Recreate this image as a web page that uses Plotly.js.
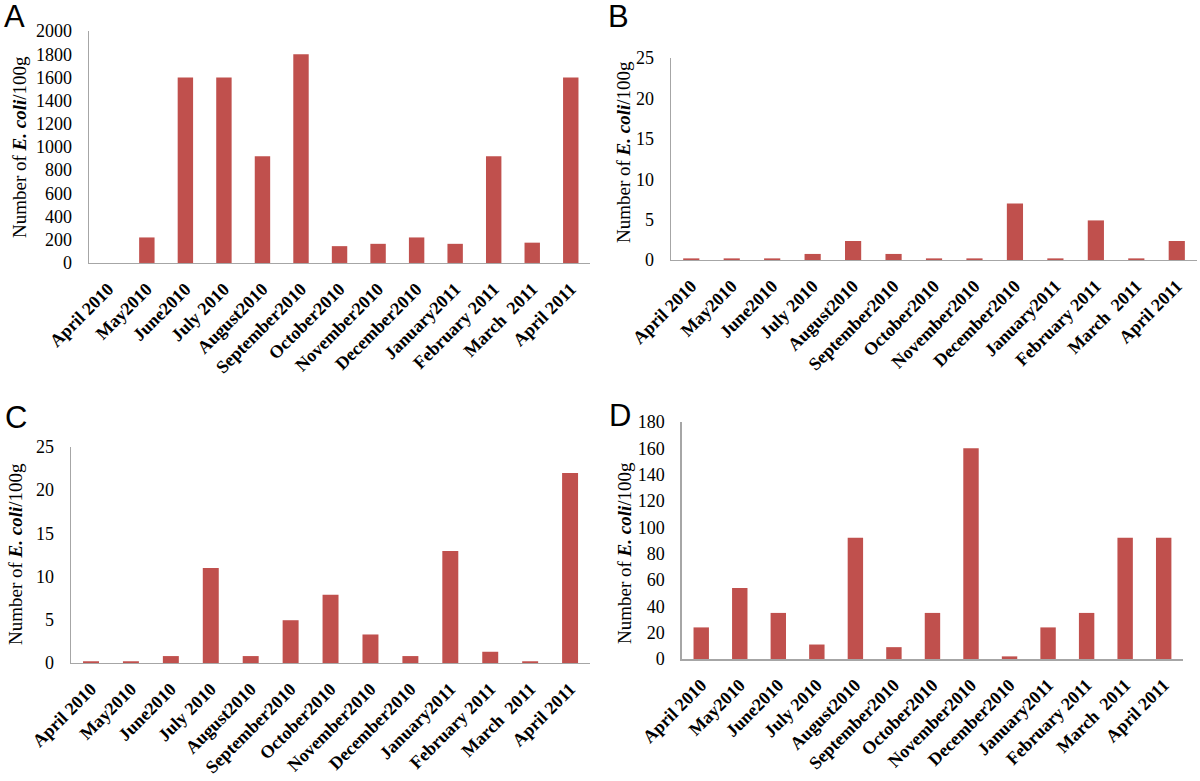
<!DOCTYPE html>
<html>
<head>
<meta charset="utf-8">
<script src="https://cdn.plot.ly/plotly-3.0.1.min.js"></script>
<style>html,body{margin:0;padding:0;background:#fff;}#chart{width:1200px;height:781px;}</style>
</head>
<body>
<div id="chart"></div>
<script>
const months = ["April 2010","May2010","June2010","July 2010","August2010","September2010","October2010","November2010","December2010","January2011","February 2011","March  2011","April 2011"];
const valuesA = [0, 220, 1600, 1600, 920, 1800, 145, 165, 220, 165, 920, 175, 1600];
const valuesB = [0.2, 0.2, 0.2, 0.75, 2.35, 0.75, 0.2, 0.2, 7, 0.2, 4.9, 0.2, 2.35];
const valuesC = [0.2, 0.2, 0.8, 11, 0.8, 4.95, 7.9, 3.3, 0.8, 12.95, 1.3, 0.2, 22];
const valuesD = [24, 54, 35, 11, 92, 9, 35, 160, 2, 24, 35, 92, 92];
const panelLetters = ["A","B","C","D"];
const yRanges = [[0,2000],[0,25],[0,25],[0,180]];
const yDticks = [200,5,5,20];
const yTitle = "Number of <b><i>E. coli</i></b>/100g";

const serif = "'Liberation Serif', 'Times New Roman', 'DejaVu Serif', serif";
const barColor = "#c0504d";
const series = [valuesA, valuesB, valuesC, valuesD];
const axSuffix = ["", "2", "3", "4"];
const xDomains = [[0.0742,0.4917],[0.5592,0.9975],[0.0592,0.4917],[0.5683,0.9858]];
const yDomains = [[0.6633,0.9603],[0.6671,0.9257],[0.1511,0.4277],[0.1562,0.4597]];

const traces = series.map((vals, i) => ({
  type: "bar",
  x: months,
  y: vals,
  xaxis: "x" + axSuffix[i],
  yaxis: "y" + axSuffix[i],
  marker: {color: barColor},
  hoverinfo: "x+y",
  showlegend: false
}));

const layout = {
  width: 1200, height: 781,
  margin: {l:0, r:0, t:0, b:0},
  paper_bgcolor: "#ffffff",
  plot_bgcolor: "#ffffff",
  bargap: 0.6,
  showlegend: false,
  annotations: []
};

for (let i = 0; i < 4; i++) {
  const s = axSuffix[i];
  layout["xaxis" + s] = {
    domain: xDomains[i],
    anchor: "y" + s,
    type: "category",
    showline: true, linecolor: "#a6a6a6", linewidth: 1.5,
    showgrid: false, zeroline: false,
    ticks: "", tickangle: -45,
    ticklabelstandoff: 7,
    tickfont: {family: serif, size: 18, color: "#000", weight: "bold"}
  };
  layout["yaxis" + s] = {
    domain: yDomains[i],
    anchor: "x" + s,
    range: yRanges[i],
    dtick: yDticks[i],
    tick0: 0,
    showline: true, linecolor: "#a6a6a6", linewidth: 1.5,
    showgrid: false, zeroline: false,
    ticks: "",
    ticklabelstandoff: 12,
    tickfont: {family: serif, size: 18, color: "#000"}
  };
}

const letterPos = [[2,16],[606,16],[3,417],[607,415]];
const titlePos = [[20,147],[623,152],[15,554],[624,553]];
for (let i = 0; i < 4; i++) {
  layout.annotations.push({
    text: panelLetters[i], xref: "paper", yref: "paper",
    x: letterPos[i][0]/1200, y: 1 - letterPos[i][1]/781,
    xanchor: "left", yanchor: "middle", showarrow: false,
    font: {family: "'Liberation Sans', Arial, sans-serif", size: 31, color: "#000"}
  });
  layout.annotations.push({
    text: yTitle, xref: "paper", yref: "paper",
    x: titlePos[i][0]/1200, y: 1 - titlePos[i][1]/781,
    xanchor: "center", yanchor: "middle", showarrow: false, textangle: -90,
    font: {family: serif, size: 19, color: "#000"}
  });
}

Plotly.newPlot("chart", traces, layout, {displayModeBar: false, staticPlot: true});
</script>
</body>
</html>
